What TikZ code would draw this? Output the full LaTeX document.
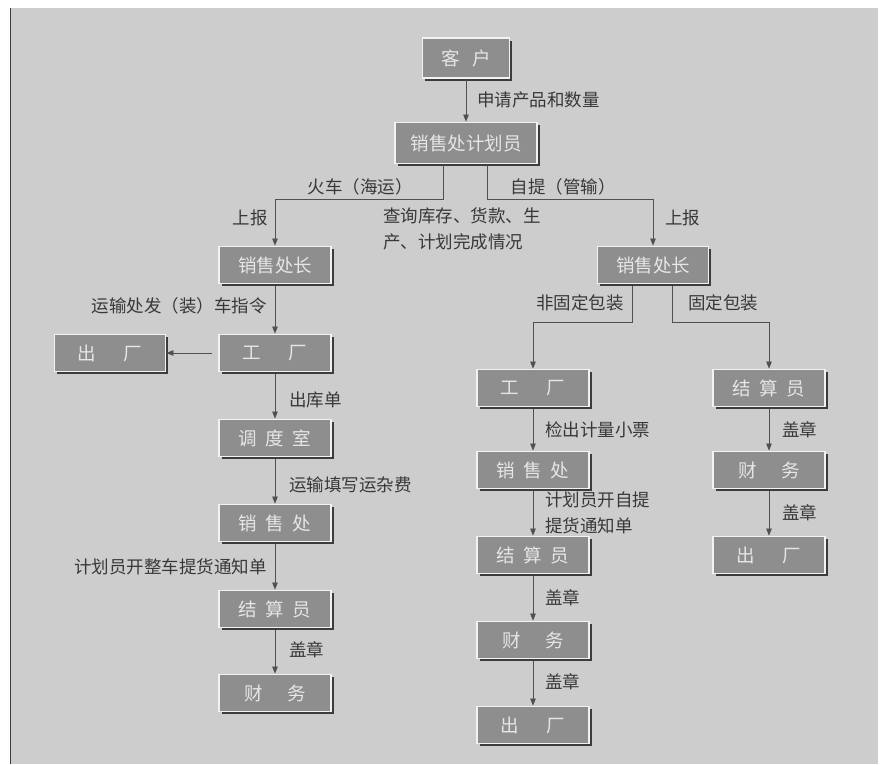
\documentclass[tikz,border=0pt]{standalone}
\usepackage{fontspec}
\setmainfont{Noto Sans CJK SC}
\usetikzlibrary{arrows.meta,shadows}
\definecolor{panel}{HTML}{CDCDCD}
\definecolor{boxfill}{HTML}{8E8E8E}
\definecolor{boxedge}{HTML}{F2F2F2}
\definecolor{boxshadow}{HTML}{3C3C3C}
\definecolor{boxtext}{HTML}{E6E6E6}
\definecolor{linec}{HTML}{505050}
\definecolor{labc}{HTML}{383838}
\begin{document}
\begin{tikzpicture}[x=1pt,y=-1pt,
  box/.style={draw=boxedge, line width=1.8pt, fill=boxfill, text=boxtext,
    minimum width=112pt, minimum height=37pt, inner sep=0pt,
    font=\fontsize{18.5}{18.5}\selectfont,
    general shadow={shadow xshift=2.5pt, shadow yshift=-2.5pt, fill=boxshadow}},
  lab/.style={text=labc, inner sep=0pt, font=\fontsize{17.5}{26}\selectfont},
  arr/.style={draw=linec, line width=0.7pt, -{Triangle[length=7pt,width=5.5pt]}},
  ln/.style={draw=linec, line width=0.7pt}]
\useasboundingbox (0,0) rectangle (884,764);
\fill[white] (0,0) rectangle (884,764);
\fill[panel] (10,8) rectangle (878,764);
\draw[boxshadow, line width=1.2pt] (10.5,8) -- (10.5,764);

% boxes
\node[box, minimum width=87pt, minimum height=40pt] (kehu) at (466,58) {客\hspace{0.7em}户};
\node[box, minimum width=142pt, minimum height=41pt] (jhy) at (466,143) {销售处计划员};
\node[box] (zL) at (275,265) {销售处长};
\node[box, minimum width=111pt] (zR) at (653,265) {销售处长};
\node[box] (gcL) at (275,353) {工\hspace{1.5em}厂};
\node[box, minimum width=111pt] (ccL) at (110,353) {出\hspace{1.5em}厂};
\node[box] (ddL) at (275,438) {调\hspace{0.45em}度\hspace{0.45em}室};
\node[box] (xsL) at (275,523) {销\hspace{0.45em}售\hspace{0.45em}处};
\node[box] (jsL) at (275,609) {结\hspace{0.45em}算\hspace{0.45em}员};
\node[box] (cwL) at (275,693) {财\hspace{1.3em}务};
\node[box] (gcM) at (533,388) {工\hspace{1.5em}厂};
\node[box] (xsM) at (533,470) {销\hspace{0.45em}售\hspace{0.45em}处};
\node[box] (jsM) at (533,555) {结\hspace{0.45em}算\hspace{0.45em}员};
\node[box] (cwM) at (533,640) {财\hspace{1.3em}务};
\node[box] (ccM) at (533,725) {出\hspace{1.5em}厂};
\node[box] (jsR) at (769,388) {结\hspace{0.45em}算\hspace{0.45em}员};
\node[box] (cwR) at (769,470) {财\hspace{1.3em}务};
\node[box] (ccR) at (769,555) {出\hspace{1.5em}厂};

% connectors
\draw[arr] (kehu.south) -- (jhy.north);
\draw[arr] ([xshift=-23pt,yshift=-1pt]jhy.south) -- ++(0,-34pt) -| (zL.north);
\draw[arr] ([xshift=21pt,yshift=-1pt]jhy.south) -- ++(0,-34pt) -| (zR.north);
\draw[arr] ([yshift=-2pt]zL.south) -- (gcL.north);
\draw[arr] ([xshift=-6pt]gcL.west) -- (ccL.east);
\draw[arr] ([yshift=-2pt]gcL.south) -- (ddL.north);
\draw[arr] ([yshift=-2pt]ddL.south) -- (xsL.north);
\draw[arr] ([yshift=-2pt]xsL.south) -- (jsL.north);
\draw[arr] ([yshift=-2pt]jsL.south) -- (cwL.north);
\draw[arr] ([xshift=-21pt,yshift=-2pt]zR.south) -- ++(0,-36pt) -| (gcM.north);
\draw[arr] ([xshift=19pt,yshift=-2pt]zR.south) -- ++(0,-36pt) -| (jsR.north);
\draw[arr] ([yshift=-2pt]gcM.south) -- (xsM.north);
\draw[arr] ([yshift=-2pt]xsM.south) -- (jsM.north);
\draw[arr] ([yshift=-2pt]jsM.south) -- (cwM.north);
\draw[arr] ([yshift=-2pt]cwM.south) -- (ccM.north);
\draw[arr] ([yshift=-2pt]jsR.south) -- (cwR.north);
\draw[arr] ([yshift=-2pt]cwR.south) -- (ccR.north);

% labels
\node[lab, anchor=west] (l1) at (477,100) {申请产品和数量};
\node[lab] (l2) at (360,187) {火车（海运）};
\node[lab] (l3) at (563,187) {自提（管输）};
\node[lab, anchor=east] (l4) at (268,218) {上报};
\node[lab, anchor=west] (l5) at (665,218) {上报};
\node[lab, anchor=north west, align=left] (l6) at (383,208) {查询库存、货款、生\\产、计划完成情况};
\node[lab, anchor=east] (l7) at (267,306) {运输处发（装）车指令};
\node[lab, anchor=west] (l8) at (289,400) {出库单};
\node[lab, anchor=west] (l9) at (289,485) {运输填写运杂费};
\node[lab, anchor=east] (l10) at (267,567) {计划员开整车提货通知单};
\node[lab, anchor=west] (l11) at (289,650) {盖章};
\node[lab, anchor=east] (l12) at (624,303) {非固定包装};
\node[lab, anchor=west] (l13) at (688,303) {固定包装};
\node[lab, anchor=west] (l14) at (545,430) {检出计量小票};
\node[lab, anchor=west, align=left] (l15) at (545,513) {计划员开自提\\提货通知单};
\node[lab, anchor=west] (l16) at (545,598) {盖章};
\node[lab, anchor=west] (l17) at (545,682) {盖章};
\node[lab, anchor=west] (l18) at (782,430) {盖章};
\node[lab, anchor=west] (l19) at (782,513) {盖章};
\end{tikzpicture}
\end{document}
